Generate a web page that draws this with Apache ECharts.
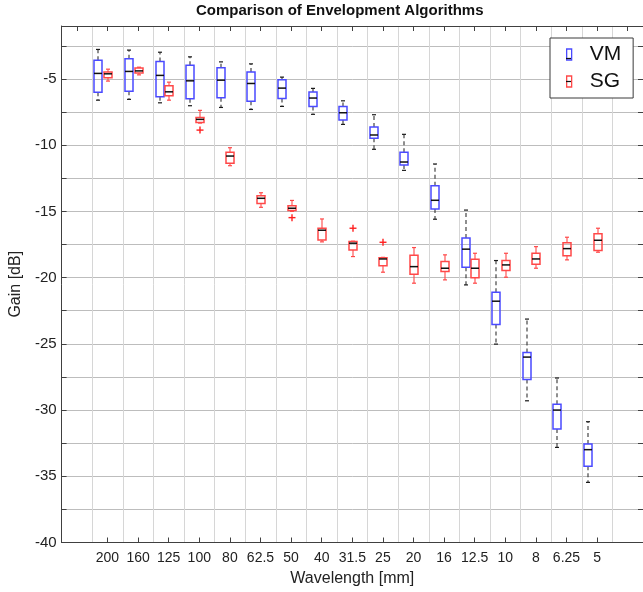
<!DOCTYPE html>
<html>
<head>
<meta charset="utf-8">
<script src="https://cdn.jsdelivr.net/npm/echarts@6/dist/echarts.min.js"></script>
<style>
html,body{margin:0;padding:0;background:#fff;}
#chart{width:643px;height:592px;}
</style>
</head>
<body>
<div id="chart"></div>
<script>
// ---- data ----
const categories = ['', '200', '160', '125', '100', '80', '62.5', '50', '40', '31.5', '25', '20', '16', '12.5', '10', '8', '6.25', '5', ''];
const boxCategories = ['200', '160', '125', '100', '80', '62.5', '50', '40', '31.5', '25', '20', '16', '12.5', '10', '8', '6.25', '5'];

const vmLow    = [-6.60, -6.54, -6.80, -7.02, -7.15, -7.30, -7.07, -7.67, -8.43, -10.31, -11.90, -15.59, -20.55, -25.02, -29.30, -32.82, -35.46];
const vmQ1     = [-6.01, -5.92, -6.35, -6.50, -6.42, -6.69, -6.47, -7.07, -8.10, -9.48, -11.50, -14.82, -19.21, -23.54, -27.69, -31.43, -34.25];
const vmMedian = [-4.58, -4.43, -4.73, -5.14, -5.09, -5.34, -5.69, -6.44, -7.55, -9.23, -11.27, -14.16, -17.85, -21.78, -26.00, -30.00, -32.99];
const vmQ3     = [-3.58, -3.48, -3.68, -3.96, -4.16, -4.48, -5.06, -5.99, -7.07, -8.63, -10.54, -13.06, -17.00, -21.10, -25.65, -29.57, -32.56];
const vmHigh   = [-2.77, -2.82, -2.98, -3.33, -3.71, -3.86, -4.86, -5.71, -6.65, -7.70, -9.18, -11.42, -14.90, -18.71, -23.13, -27.58, -30.88];

const sgLow    = [-5.16, -4.69, -6.60, -8.33, -11.55, -14.69, -15.00, -17.30, -18.41, -19.59, -20.42, -20.17, -20.42, -19.97, -19.29, -18.66, -18.08];
const sgQ1     = [-4.91, -4.54, -6.27, -8.28, -11.37, -14.40, -14.94, -17.15, -17.91, -19.11, -19.74, -19.54, -20.00, -19.47, -18.99, -18.34, -17.96];
const sgMedian = [-4.61, -4.39, -5.97, -8.05, -10.82, -14.01, -14.76, -16.42, -17.40, -18.59, -19.17, -19.29, -19.29, -19.04, -18.59, -17.81, -17.18];
const sgQ3     = [-4.48, -4.18, -5.52, -7.90, -10.54, -13.81, -14.57, -16.27, -17.28, -18.49, -18.31, -18.79, -18.61, -18.71, -18.16, -17.36, -16.68];
const sgHigh   = [-4.26, -4.11, -5.24, -7.37, -10.19, -13.59, -14.17, -15.57, -17.25, -18.47, -17.73, -18.28, -18.16, -18.16, -17.66, -16.95, -16.27];

const sgOutlierCategories = ['100', '50', '31.5', '25'];
const sgOutlierValues     = [-8.86, -15.47, -16.27, -17.33];

const yTickStep = 2.5;

// ---- build series data ----
function boxRows(lo, q1, med, q3, hi) {
  return boxCategories.map((c, i) => [categories.indexOf(c), lo[i], q1[i], med[i], q3[i], hi[i]]);
}
const vmData = boxRows(vmLow, vmQ1, vmMedian, vmQ3, vmHigh);
const sgData = boxRows(sgLow, sgQ1, sgMedian, sgQ3, sgHigh);
const sgOutlierData = sgOutlierCategories.map((c, i) => [categories.indexOf(c), sgOutlierValues[i]]);

const VM_COLOR = '#4a4aff';
const SG_COLOR = '#ff4848';
const VM_OFFSET = -0.30;
const SG_OFFSET = 0.015;

function ln(x1, y1, x2, y2, stroke, width, dash) {
  return {
    type: 'line', silent: true,
    shape: { x1: x1, y1: y1, x2: x2, y2: y2 },
    style: { stroke: stroke, lineWidth: width, lineDash: dash || 'solid', fill: 'none' }
  };
}

function makeBoxRenderer(boxColor, whiskerColor, capColor, dashed, offsetFrac) {
  return function (params, api) {
    const ci = api.value(0);
    const bw = api.size([1, 0])[0];
    const cx = Math.round(api.coord([ci, api.value(3)])[0] + offsetFrac * bw);
    const y = k => api.coord([ci, api.value(k)])[1];
    const yLo = y(1), yQ1 = y(2), yMed = y(3), yQ3 = y(4), yHi = y(5);
    const hw = 4, cw = 2;
    const dash = dashed ? [4, 3] : null;
    return {
      type: 'group',
      children: [
        ln(cx, yQ3, cx, yHi, whiskerColor, 1.1, dash),
        ln(cx, yQ1, cx, yLo, whiskerColor, 1.1, dash),
        ln(cx - cw, yHi, cx + cw, yHi, capColor, 1.2),
        ln(cx - cw, yLo, cx + cw, yLo, capColor, 1.2),
        {
          type: 'rect', silent: true,
          shape: { x: cx - hw, y: yQ3, width: 2 * hw, height: yQ1 - yQ3 },
          style: { fill: 'rgba(255,255,255,0)', stroke: boxColor, lineWidth: 1.5 }
        },
        ln(cx - hw, yMed, cx + hw, yMed, '#111111', 1.5)
      ]
    };
  };
}

function renderOutlier(params, api) {
  const ci = api.value(0);
  const bw = api.size([1, 0])[0];
  const p = api.coord([ci, api.value(1)]);
  const cx = Math.round(p[0] + SG_OFFSET * bw), cy = p[1], s = 3.5;
  return {
    type: 'group',
    children: [
      ln(cx - s, cy, cx + s, cy, '#ff2020', 1.4),
      ln(cx, cy - s, cx, cy + s, '#ff2020', 1.4)
    ]
  };
}

const FONT = 'Liberation Sans, Arial, sans-serif';
const AXIS_COLOR = '#404040';

const chart = echarts.init(document.getElementById('chart'), null, { renderer: 'canvas' });
chart.setOption({
  backgroundColor: '#ffffff',
  animation: false,
  title: {
    text: 'Comparison of Envelopment Algorithms',
    left: 196,
    top: 3,
    padding: 0,
    textStyle: { fontFamily: FONT, fontSize: 15, fontWeight: 'bold', color: '#111' }
  },
  legend: {
    orient: 'vertical',
    left: 550,
    top: 38,
    selectedMode: false,
    itemWidth: 5,
    itemHeight: 11,
    itemGap: 6,
    padding: [6, 12, 6, 16],
    borderColor: '#3a3a3a',
    borderWidth: 1,
    backgroundColor: '#ffffff',
    textStyle: { fontFamily: FONT, fontSize: 21, color: '#111', padding: [0, 0, 0, 13] },
    data: [
      { name: 'VM', icon: 'path://M0,0L5,0L5,11L0,11Z', itemStyle: { color: 'rgba(255,255,255,0)', borderColor: VM_COLOR, borderWidth: 1.3 } },
      { name: 'SG', icon: 'path://M0,0L5,0L5,11L0,11Z', itemStyle: { color: 'rgba(255,255,255,0)', borderColor: SG_COLOR, borderWidth: 1.3 } }
    ]
  },
  grid: { left: 54, top: 26, width: 591, height: 516.5, containLabel: false },
  xAxis: [
    {
      type: 'category',
      data: categories,
      position: 'bottom',
      boundaryGap: true,
      name: 'Wavelength [mm]',
      nameLocation: 'middle',
      nameGap: 27,
      nameTextStyle: { fontFamily: FONT, fontSize: 16, color: '#222' },
      axisLine: { show: true, lineStyle: { color: AXIS_COLOR, width: 1 } },
      axisTick: { show: true, inside: true, length: 5, alignWithLabel: true, interval: (i) => i > 0 && i < categories.length - 1, lineStyle: { color: AXIS_COLOR } },
      axisLabel: { show: true, interval: 0, margin: 9, fontFamily: FONT, fontSize: 14, color: '#222' },
      splitLine: { show: true, interval: 0, lineStyle: { color: '#d6d6d6', width: 1 } }
    },
    {
      type: 'category',
      data: categories,
      position: 'top',
      boundaryGap: true,
      axisLine: { show: true, lineStyle: { color: AXIS_COLOR, width: 1 } },
      axisTick: { show: true, inside: true, length: 5, alignWithLabel: true, interval: 0, lineStyle: { color: AXIS_COLOR } },
      axisLabel: { show: false },
      splitLine: { show: false }
    }
  ],
  yAxis: [
    {
      type: 'value',
      min: -40,
      max: -1,
      interval: yTickStep,
      position: 'left',
      name: 'Gain [dB]',
      nameLocation: 'middle',
      nameGap: 31,
      nameRotate: 90,
      nameTextStyle: { fontFamily: FONT, fontSize: 16, color: '#222' },
      axisLine: { show: true, lineStyle: { color: AXIS_COLOR, width: 1 } },
      axisTick: { show: true, inside: true, length: 5, lineStyle: { color: AXIS_COLOR } },
      axisLabel: {
        margin: 5, fontFamily: FONT, fontSize: 15, color: '#222',
        formatter: v => (Math.abs(v % 5) < 1e-9 ? String(v) : '')
      },
      splitLine: { show: true, lineStyle: { color: '#bdbdbd', width: 1 } }
    },
    {
      type: 'value',
      min: -40,
      max: -1,
      interval: yTickStep,
      position: 'right',
      axisLine: { show: true, lineStyle: { color: AXIS_COLOR, width: 1 } },
      axisTick: { show: true, inside: true, length: 5, lineStyle: { color: AXIS_COLOR } },
      axisLabel: { show: false },
      splitLine: { show: false }
    }
  ],
  series: [
    {
      name: 'VM',
      type: 'custom',
      xAxisIndex: 0, yAxisIndex: 0,
      itemStyle: { color: VM_COLOR },
      encode: { x: 0, y: [1, 2, 3, 4, 5] },
      renderItem: makeBoxRenderer(VM_COLOR, '#333333', '#1a1a1a', true, VM_OFFSET),
      data: vmData,
      z: 3
    },
    {
      name: 'SG',
      type: 'custom',
      xAxisIndex: 0, yAxisIndex: 0,
      itemStyle: { color: SG_COLOR },
      encode: { x: 0, y: [1, 2, 3, 4, 5] },
      renderItem: makeBoxRenderer(SG_COLOR, SG_COLOR, SG_COLOR, false, SG_OFFSET),
      data: sgData,
      z: 3
    },
    {
      name: 'SG outliers',
      type: 'custom',
      xAxisIndex: 0, yAxisIndex: 0,
      encode: { x: 0, y: 1 },
      renderItem: renderOutlier,
      data: sgOutlierData,
      z: 3
    }
  ],
  graphic: [
    { type: 'line', z: 100, shape: { x1: 566, y1: 58.5, x2: 571, y2: 58.5 }, style: { stroke: '#111', lineWidth: 1.2 } },
    { type: 'line', z: 100, shape: { x1: 566, y1: 81.5, x2: 571, y2: 81.5 }, style: { stroke: '#111', lineWidth: 1.2 } }
  ]
});
</script>
</body>
</html>
